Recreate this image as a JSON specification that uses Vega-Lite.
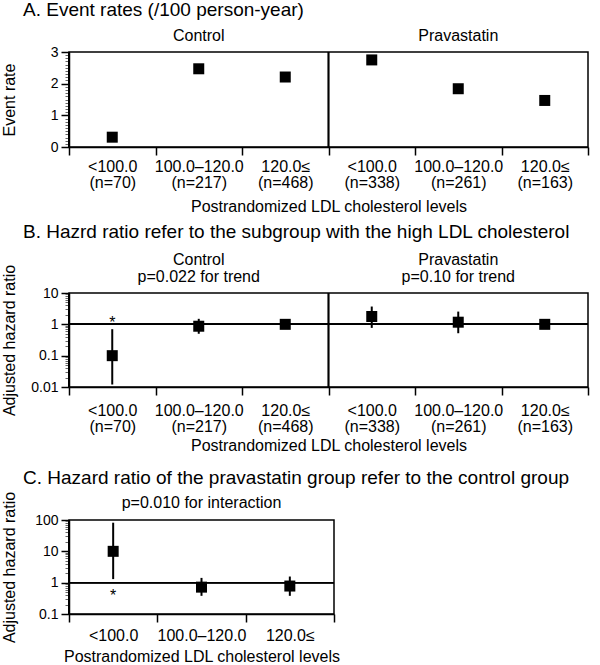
{
  "$schema": "https://vega.github.io/schema/vega-lite/v6.json",
  "background": "white",
  "padding": {"left": 0, "top": 0, "right": 5, "bottom": 0},
  "spacing": 14,
  "config": {
    "font": "Liberation Sans",
    "view": {"stroke": "black", "strokeWidth": 1.5},
    "title": {"fontSize": 19, "fontWeight": "normal", "anchor": "start", "frame": "bounds", "dx": 22, "color": "black", "font": "Liberation Sans"},
    "axis": {"domainColor": "black", "tickColor": "black", "labelColor": "black", "titleColor": "black", "labelFont": "Liberation Sans", "titleFont": "Liberation Sans", "labelFontSize": 16, "titleFontSize": 16, "titleFontWeight": "normal", "grid": false, "tickSize": 8, "domainWidth": 1.5, "tickWidth": 1.5},
    "axisX": {"labelAngle": 0},
    "axisY": {"minExtent": 40, "maxExtent": 40, "titlePadding": 12, "labelPadding": 3, "labelFontSize": 14}
  },
  "vconcat": [
    {
      "spacing": 7,
      "vconcat": [
        {
          "title": {"text": "A. Event rates (/100 person-year)", "offset": 7},
          "width": 519,
          "height": 95,
          "data": {"values": [
            {"group": "Control", "cat": "<100.0|(n=70)", "idx": 1, "rate": 0.31},
            {"group": "Control", "cat": "100.0–120.0|(n=217)", "idx": 2, "rate": 2.47},
            {"group": "Control", "cat": "120.0≤|(n=468)", "idx": 3, "rate": 2.21},
            {"group": "Pravastatin", "cat": "<100.0|(n=338)", "idx": 4, "rate": 2.75},
            {"group": "Pravastatin", "cat": "100.0–120.0|(n=261)", "idx": 5, "rate": 1.84},
            {"group": "Pravastatin", "cat": "120.0≤|(n=163)", "idx": 6, "rate": 1.47}
          ]},
          "layer": [
            {
              "layer": [
                {
                  "mark": {"type": "square", "size": 121, "color": "black", "opacity": 1},
                  "encoding": {
                    "x": {"field": "cat", "type": "nominal", "sort": {"field": "idx", "op": "min"}, "scale": {"type": "band", "paddingInner": 0, "paddingOuter": 0},
                      "axis": {"title": "Postrandomized LDL cholesterol levels", "labelExpr": "split(datum.label, '|')", "labelAngle": 0, "labelAlign": "center", "labelBaseline": "top", "tickBand": "extent", "labelPadding": 3, "labelLineHeight": 16, "titlePadding": 8}},
                    "y": {"field": "rate", "type": "quantitative", "scale": {"domain": [0, 3]}, "axis": {"title": "Event rate", "values": [0, 1, 2, 3]}}
                  }
                },
                {
                  "mark": {"type": "rule", "strokeOpacity": 0},
                  "encoding": {
                    "y": {"datum": 1, "type": "quantitative", "axis": {"orient": "left", "title": null, "labels": false, "domain": false, "tickSize": 4, "tickWidth": 1, "tickColor": "#666666", "minExtent": 0, "maxExtent": 0,
                      "values": [0.1, 0.2, 0.3, 0.4, 0.5, 0.6, 0.7, 0.8, 0.9, 1.1, 1.2, 1.3, 1.4, 1.5, 1.6, 1.7, 1.8, 1.9, 2.1, 2.2, 2.3, 2.4, 2.5, 2.6, 2.7, 2.8, 2.9]}}
                  }
                }
              ],
              "resolve": {"axis": {"y": "independent"}}
            },
            {
              "mark": {"type": "rule", "color": "black", "strokeWidth": 1.5},
              "encoding": {
                "x": {"field": "group", "type": "nominal", "bandPosition": 0, "scale": {"type": "band", "paddingInner": 0, "paddingOuter": 0},
                  "axis": {"orient": "top", "title": null, "ticks": false, "tickSize": 0, "domain": false, "labelAngle": 0, "labelAlign": "center", "labelPadding": 9, "labelFontSize": 16}}
              }
            }
          ],
          "resolve": {"scale": {"x": "independent"}}
        },
        {
          "title": {"text": "B. Hazrd ratio refer to the subgroup with the high LDL cholesterol", "offset": 9},
          "width": 519,
          "height": 94,
          "data": {"values": [
            {"group": "Control|p=0.022 for trend", "cat": "<100.0|(n=70)", "idx": 1, "hr": 0.1, "lo": 0.012, "hi": 0.7, "star": "*"},
            {"group": "Control|p=0.022 for trend", "cat": "100.0–120.0|(n=217)", "idx": 2, "hr": 0.87, "lo": 0.5, "hi": 1.5},
            {"group": "Control|p=0.022 for trend", "cat": "120.0≤|(n=468)", "idx": 3, "hr": 1.0},
            {"group": "Pravastatin|p=0.10 for trend", "cat": "<100.0|(n=338)", "idx": 4, "hr": 1.78, "lo": 0.77, "hi": 3.7},
            {"group": "Pravastatin|p=0.10 for trend", "cat": "100.0–120.0|(n=261)", "idx": 5, "hr": 1.17, "lo": 0.52, "hi": 2.55},
            {"group": "Pravastatin|p=0.10 for trend", "cat": "120.0≤|(n=163)", "idx": 6, "hr": 1.0}
          ]},
          "layer": [
            {
              "layer": [
                {
                  "mark": {"type": "rule", "color": "black", "strokeWidth": 1.5},
                  "encoding": {"y": {"datum": 1, "type": "quantitative", "axis": null}}
                },
                {
                  "transform": [{"filter": "isValid(datum.lo)"}],
                  "mark": {"type": "rule", "color": "black", "strokeWidth": 2},
                  "encoding": {
                    "x": {"field": "cat", "type": "nominal", "sort": {"field": "idx", "op": "min"}, "scale": {"type": "band", "paddingInner": 0, "paddingOuter": 0}},
                    "y": {"field": "lo", "type": "quantitative", "axis": null},
                    "y2": {"field": "hi"}
                  }
                },
                {
                  "mark": {"type": "square", "size": 121, "color": "black", "opacity": 1},
                  "encoding": {
                    "x": {"field": "cat", "type": "nominal", "sort": {"field": "idx", "op": "min"}, "scale": {"type": "band", "paddingInner": 0, "paddingOuter": 0},
                      "axis": {"title": "Postrandomized LDL cholesterol levels", "labelExpr": "split(datum.label, '|')", "labelAngle": 0, "labelAlign": "center", "labelBaseline": "top", "tickBand": "extent", "labelPadding": 7, "labelLineHeight": 16, "titlePadding": 3}},
                    "y": {"field": "hr", "type": "quantitative", "scale": {"type": "log", "domain": [0.01, 10]}, "axis": {"title": "Adjusted hazard ratio", "values": [0.01, 0.1, 1, 10], "format": "~g"}}
                  }
                },
                {
                  "transform": [{"filter": "isValid(datum.star)"}],
                  "mark": {"type": "text", "fontSize": 16, "color": "black", "baseline": "middle", "dy": -6},
                  "encoding": {
                    "x": {"field": "cat", "type": "nominal", "sort": {"field": "idx", "op": "min"}, "scale": {"type": "band", "paddingInner": 0, "paddingOuter": 0}},
                    "y": {"field": "hi", "type": "quantitative", "axis": null},
                    "text": {"field": "star"}
                  }
                },
                {
                  "mark": {"type": "rule", "strokeOpacity": 0},
                  "encoding": {
                    "y": {"datum": 1, "type": "quantitative", "axis": {"orient": "left", "title": null, "labels": false, "domain": false, "tickSize": 4, "tickWidth": 1, "tickColor": "#666666", "minExtent": 0, "maxExtent": 0,
                      "values": [0.02, 0.03, 0.04, 0.05, 0.06, 0.07, 0.08, 0.09, 0.2, 0.3, 0.4, 0.5, 0.6, 0.7, 0.8, 0.9, 2, 3, 4, 5, 6, 7, 8, 9]}}
                  }
                }
              ],
              "resolve": {"axis": {"y": "independent"}}
            },
            {
              "mark": {"type": "rule", "color": "black", "strokeWidth": 1.5},
              "encoding": {
                "x": {"field": "group", "type": "nominal", "bandPosition": 0, "scale": {"type": "band", "paddingInner": 0, "paddingOuter": 0},
                  "axis": {"orient": "top", "title": null, "ticks": false, "tickSize": 0, "domain": false, "labelAngle": 0, "labelAlign": "center", "labelPadding": 26, "labelFontSize": 16, "labelLineHeight": 17, "labelExpr": "split(datum.label, '|')"}}
              }
            }
          ],
          "resolve": {"scale": {"x": "independent"}}
        }
      ]
    },
    {
      "title": {"text": "C. Hazard ratio of the pravastatin group refer to the control group", "offset": 3},
      "width": 265,
      "height": 94,
      "data": {"values": [
        {"note": "p=0.010 for interaction", "cat": "<100.0", "idx": 1, "hr": 10, "lo": 1.3, "hi": 82, "star": "*"},
        {"note": "p=0.010 for interaction", "cat": "100.0–120.0", "idx": 2, "hr": 0.72, "lo": 0.38, "hi": 1.42},
        {"note": "p=0.010 for interaction", "cat": "120.0≤", "idx": 3, "hr": 0.78, "lo": 0.38, "hi": 1.57}
      ]},
      "layer": [
        {
          "layer": [
            {
              "mark": {"type": "rule", "color": "black", "strokeWidth": 1.5},
              "encoding": {"y": {"datum": 1, "type": "quantitative", "axis": null}}
            },
            {
              "mark": {"type": "rule", "color": "black", "strokeWidth": 2},
              "encoding": {
                "x": {"field": "cat", "type": "nominal", "sort": {"field": "idx", "op": "min"}, "scale": {"type": "band", "paddingInner": 0, "paddingOuter": 0}},
                "y": {"field": "lo", "type": "quantitative", "axis": null},
                "y2": {"field": "hi"}
              }
            },
            {
              "mark": {"type": "square", "size": 121, "color": "black", "opacity": 1},
              "encoding": {
                "x": {"field": "cat", "type": "nominal", "sort": {"field": "idx", "op": "min"}, "scale": {"type": "band", "paddingInner": 0, "paddingOuter": 0},
                  "axis": {"title": "Postrandomized LDL cholesterol levels", "labelAngle": 0, "labelAlign": "center", "labelBaseline": "top", "tickBand": "extent", "labelPadding": 5, "titlePadding": 5}},
                "y": {"field": "hr", "type": "quantitative", "scale": {"type": "log", "domain": [0.1, 100]}, "axis": {"title": "Adjusted hazard ratio", "values": [0.1, 1, 10, 100], "format": "~g"}}
              }
            },
            {
              "transform": [{"filter": "isValid(datum.star)"}],
              "mark": {"type": "text", "fontSize": 16, "color": "black", "baseline": "middle", "dy": 17},
              "encoding": {
                "x": {"field": "cat", "type": "nominal", "sort": {"field": "idx", "op": "min"}, "scale": {"type": "band", "paddingInner": 0, "paddingOuter": 0}},
                "y": {"field": "lo", "type": "quantitative", "axis": null},
                "text": {"field": "star"}
              }
            },
            {
              "mark": {"type": "rule", "strokeOpacity": 0},
              "encoding": {
                "y": {"datum": 1, "type": "quantitative", "axis": {"orient": "left", "title": null, "labels": false, "domain": false, "tickSize": 4, "tickWidth": 1, "tickColor": "#666666", "minExtent": 0, "maxExtent": 0,
                  "values": [0.2, 0.3, 0.4, 0.5, 0.6, 0.7, 0.8, 0.9, 2, 3, 4, 5, 6, 7, 8, 9, 20, 30, 40, 50, 60, 70, 80, 90]}}
              }
            }
          ],
          "resolve": {"axis": {"y": "independent"}}
        },
        {
          "mark": {"type": "rule", "color": "black", "strokeWidth": 1.5},
          "encoding": {
            "x": {"field": "note", "type": "nominal", "bandPosition": 0, "scale": {"type": "band", "paddingInner": 0, "paddingOuter": 0},
              "axis": {"orient": "top", "title": null, "ticks": false, "tickSize": 0, "domain": false, "labelAngle": 0, "labelAlign": "center", "labelPadding": 10, "labelFontSize": 16}}
          }
        }
      ],
      "resolve": {"scale": {"x": "independent"}}
    }
  ]
}
